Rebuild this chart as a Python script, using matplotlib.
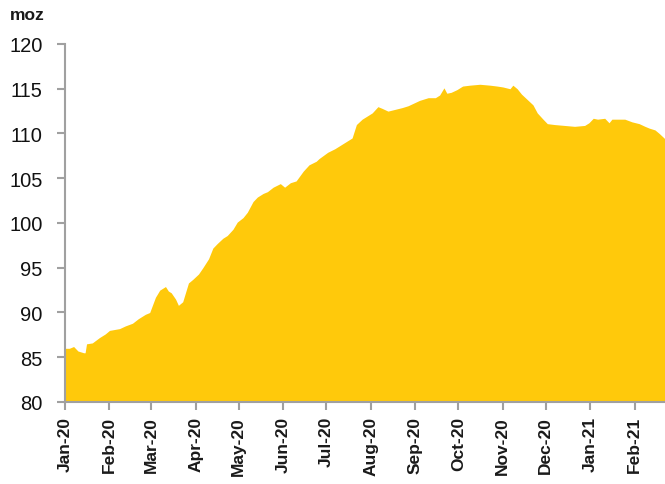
import matplotlib
matplotlib.use("Agg")
import matplotlib.pyplot as plt
import matplotlib.dates as mdates
import pandas as pd

dates = ["2020-01-01","2020-01-04","2020-01-07","2020-01-10","2020-01-14","2020-01-15","2020-01-16",
         "2020-01-20","2020-01-25","2020-01-29","2020-02-01","2020-02-08","2020-02-12","2020-02-17",
         "2020-02-21","2020-02-26","2020-02-29","2020-03-04","2020-03-07","2020-03-11","2020-03-13",
         "2020-03-15","2020-03-18","2020-03-20","2020-03-23","2020-03-27","2020-03-30","2020-04-03",
         "2020-04-06","2020-04-10","2020-04-13","2020-04-16","2020-04-20","2020-04-23","2020-04-27",
         "2020-04-30","2020-05-04","2020-05-07","2020-05-11","2020-05-14","2020-05-18","2020-05-21",
         "2020-05-25","2020-05-30","2020-06-02","2020-06-06","2020-06-10","2020-06-15","2020-06-19",
         "2020-06-24","2020-06-26","2020-07-02","2020-07-07","2020-07-10","2020-07-15","2020-07-19",
         "2020-07-22","2020-07-26","2020-07-29","2020-08-02","2020-08-06","2020-08-09","2020-08-13",
         "2020-08-18","2020-08-23","2020-08-27","2020-08-31","2020-09-04","2020-09-10","2020-09-15",
         "2020-09-18","2020-09-21","2020-09-23","2020-09-26","2020-09-30","2020-10-04","2020-10-09",
         "2020-10-16","2020-10-23","2020-10-28","2020-11-01","2020-11-06","2020-11-08","2020-11-11",
         "2020-11-14","2020-11-18","2020-11-22","2020-11-25","2020-11-29","2020-12-02","2020-12-07",
         "2020-12-14","2020-12-21","2020-12-28","2020-12-31","2021-01-03","2021-01-06","2021-01-11",
         "2021-01-14","2021-01-16","2021-01-25","2021-01-30","2021-02-04","2021-02-08","2021-02-11",
         "2021-02-15","2021-02-18","2021-02-22"]
values = [86.0,86.0,86.2,85.7,85.5,85.5,86.5,
          86.6,87.2,87.6,88.0,88.2,88.5,88.8,
          89.3,89.8,90.0,91.7,92.5,92.9,92.4,
          92.2,91.5,90.8,91.2,93.3,93.7,94.3,
          95.0,96.0,97.2,97.7,98.3,98.6,99.3,
          100.1,100.6,101.2,102.4,102.9,103.3,103.5,
          104.0,104.4,104.0,104.5,104.7,105.8,106.5,
          106.9,107.2,107.9,108.3,108.6,109.1,109.5,
          111.0,111.6,111.9,112.3,113.0,112.8,112.5,
          112.7,112.9,113.1,113.4,113.7,114.0,114.0,
          114.3,115.1,114.5,114.6,114.9,115.3,115.4,
          115.5,115.4,115.3,115.2,115.0,115.4,115.0,
          114.4,113.8,113.2,112.3,111.6,111.1,111.0,
          110.9,110.8,110.9,111.2,111.7,111.6,111.7,
          111.2,111.6,111.6,111.3,111.1,110.8,110.6,
          110.4,110.0,109.4]

month_ticks = pd.date_range("2020-01-01", "2021-02-01", freq="MS")
tick_labels = [d.strftime("%b-%y") for d in month_ticks]

x = pd.to_datetime(dates)

fig = plt.figure(figsize=(6.65, 4.85), dpi=100)
ax = fig.add_axes([65/665, (485-403)/485, 600/665, 358/485])

gold = "#FFC90B"
ax.fill_between(x, 80, values, color=gold, linewidth=0)

ax.set_ylim(80, 120)
ax.set_xlim(pd.Timestamp("2020-01-01"), pd.Timestamp("2021-02-22"))
ax.set_yticks(range(80, 121, 5))
ax.set_xticks(month_ticks)
ax.set_xticklabels(tick_labels, rotation=90, fontsize=12.5, fontweight="bold",
                   family="Liberation Sans", color="#1a1a1a")
for lab in ax.get_yticklabels():
    lab.set_fontsize(14.5)
    lab.set_family("Liberation Sans")
    lab.set_color("#111111")

for s in ["top", "right"]:
    ax.spines[s].set_visible(False)
for s in ["left", "bottom"]:
    ax.spines[s].set_color("#a0a0a0")
    ax.spines[s].set_linewidth(1.5)
ax.tick_params(axis="both", color="#a0a0a0", width=1.5, length=6)
ax.tick_params(axis="y", pad=10)
ax.tick_params(axis="x", pad=4)

fig.text(10/665, 1 - 16/485, "moz", fontsize=12.5, fontweight="bold",
         family="Liberation Sans", color="#1a1a1a", va="center", ha="left")

fig.savefig("out.png", dpi=100)
